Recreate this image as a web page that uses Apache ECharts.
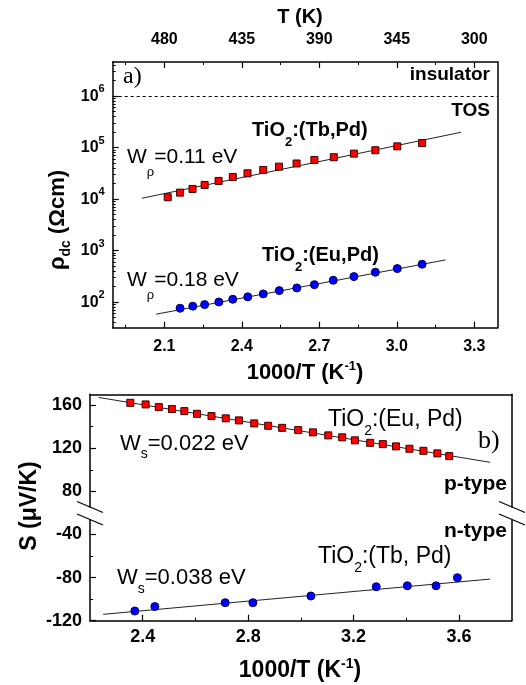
<!DOCTYPE html>
<html><head><meta charset="utf-8">
<script src="https://cdn.jsdelivr.net/npm/echarts@6/dist/echarts.min.js"></script>
<style>html,body{margin:0;padding:0;background:#fff}#c{width:526px;height:685px}</style>
</head><body><div id="c"></div>
<script>
// ---------- Panel a): rho_dc vs 1000/T ----------
const invT_TbPd = [2.113, 2.161, 2.209, 2.256, 2.310, 2.365, 2.422, 2.483, 2.544, 2.612, 2.681, 2.756, 2.834, 2.917, 3.002, 3.098];
const rho_TbPd  = [10900, 13400, 15800, 18900, 22600, 27000, 31800, 36900, 42800, 49300, 57700, 65200, 76600, 89100, 106000, 123000];
const invT_EuPd = [2.161, 2.210, 2.256, 2.311, 2.365, 2.423, 2.483, 2.545, 2.613, 2.681, 2.754, 2.834, 2.917, 3.002, 3.098];
const rho_EuPd  = [76.4, 83.6, 89.8, 101, 114, 127, 145, 168, 189, 219, 267, 314, 382, 449, 546];
const fitA_TbX = [2.0125, 3.249], fitA_TbY = [10420, 199100];
const fitA_EuX = [2.068, 3.189],  fitA_EuY = [58.5, 662];
const insulatorLine = 1e6;

// ---------- Panel b): S vs 1000/T ----------
const invT_S_EuPd = [2.353, 2.411, 2.461, 2.511, 2.558, 2.606, 2.661, 2.715, 2.765, 2.823, 2.876, 2.929, 2.990, 3.046, 3.104, 3.157, 3.205, 3.263, 3.311, 3.361, 3.412, 3.465, 3.518, 3.563];
const S_EuPd = [162.1, 160.6, 158.1, 156.3, 154.4, 151.9, 149.8, 147.7, 145.8, 143.0, 140.8, 138.9, 136.8, 134.7, 131.9, 130.1, 127.3, 125.0, 123.8, 121.7, 119.5, 117.6, 115.2, 112.7];
const fitB_EuX = [2.233, 3.718], fitB_EuY = [167.1, 106.9];
const invT_S_TbPd = [2.370, 2.446, 2.713, 2.818, 3.038, 3.286, 3.404, 3.513, 3.594];
const S_TbPd = [-111.0, -106.9, -103.3, -103.3, -97.1, -88.5, -87.6, -87.6, -80.1];
const fitB_TbX = [2.250, 3.718], fitB_TbY = [-114.1, -81.4];

// ---------- Ticks / labels ----------
const aXTicks = [2.1, 2.4, 2.7, 3.0, 3.3];
const aXMinor = [1.95, 2.25, 2.55, 2.85, 3.15];
const aTopLabels = ['480', '435', '390', '345', '300'];
const aYTicks = [1e2, 1e3, 1e4, 1e5, 1e6];
const aYMinor = [];
[10, 100, 1000, 10000, 100000, 1000000].forEach(d => { for (let m = 2; m <= 9; m++) { const v = m * d; if (v > 32 && v < 4.6e6) aYMinor.push(v); } });
const bXTicks = [2.4, 2.8, 3.2, 3.6];
const bXMinor = [2.6, 3.0, 3.4];
const bYUpTicks = [80, 120, 160], bYUpMinor = [100, 140];
const bYLoTicks = [-120, -80, -40], bYLoMinor = [-100, -60];

const F = 'Liberation Sans, Arial, Helvetica, sans-serif';
const FS = 'Liberation Serif, Times New Roman, serif';
const zip = (a, b) => a.map((v, i) => [v, b[i]]);
const lineS = {color: '#000', width: 1.5};
const tickS = {color: '#000', width: 1.2};

function axis(o) {
  return Object.assign({
    type: 'value', splitLine: {show: false},
    axisLine: {show: false, onZero: false}, axisTick: {show: false}, axisLabel: {show: false}
  }, o);
}
function frame(o) { return axis(Object.assign({axisLine: {show: true, onZero: false, lineStyle: lineS}}, o)); }
function major(o, ticks, labelOpt) {
  return axis(Object.assign({
    axisLine: {show: true, onZero: false, lineStyle: lineS},
    axisTick: {show: true, inside: true, length: 6, customValues: ticks, lineStyle: tickS},
    axisLabel: Object.assign({show: true, customValues: ticks, fontFamily: F, fontWeight: 'bold', color: '#000'}, labelOpt)
  }, o));
}
function minor(o, ticks) {
  return axis(Object.assign({axisTick: {show: true, inside: true, length: 3, customValues: ticks, lineStyle: {color: '#000', width: 1}}}, o));
}

const gA = {min: 1.9, max: 3.39};
const gB = {min: 2.2, max: 3.8};
const yA = {type: 'log', logBase: 10, min: 32, max: 4.6e6};

function txt(x, y, text, rich, extra) {
  return Object.assign({type: 'text', x: x, y: y, z: 100, silent: true,
    style: {text: text, rich: rich, align: 'left', verticalAlign: 'middle'}}, extra || {});
}
const R = (fs, lh, bold, va, fam) => ({fontFamily: fam || F, fontSize: fs, fontWeight: bold ? 'bold' : 'normal', fill: '#000', color: '#000', lineHeight: lh, verticalAlign: va});

const option = {
  animation: false,
  backgroundColor: '#fff',
  grid: [
    {left: 112.7, right: 28.5, top: 62, height: 265.7},
    {left: 90, right: 14.3, top: 394.3, height: 118.6},
    {left: 90, right: 14.3, top: 512.9, height: 107.8}
  ],
  xAxis: [
    major(Object.assign({gridIndex: 0, position: 'bottom'}, gA), aXTicks, {margin: 11, fontSize: 16, formatter: v => v.toFixed(1)}),
    minor(Object.assign({gridIndex: 0, position: 'bottom'}, gA), aXMinor),
    major(Object.assign({gridIndex: 0, position: 'top'}, gA), aXTicks, {margin: 14, fontSize: 16,
      formatter: v => { const i = aXTicks.findIndex(t => Math.abs(t - v) < 1e-6); return i >= 0 ? aTopLabels[i] : ''; }}),
    minor(Object.assign({gridIndex: 0, position: 'top'}, gA), aXMinor),
    frame(Object.assign({gridIndex: 1, position: 'top'}, gB)),
    major(Object.assign({gridIndex: 2, position: 'bottom'}, gB), bXTicks, {margin: 7, fontSize: 18, formatter: v => v.toFixed(1)}),
    minor(Object.assign({gridIndex: 2, position: 'bottom'}, gB), bXMinor)
  ],
  yAxis: [
    major(Object.assign({gridIndex: 0, position: 'left'}, yA), aYTicks, {margin: 8,
      formatter: v => '{b|10}{s|' + Math.round(Math.log10(v)) + '}',
      rich: {b: {fontFamily: F, fontWeight: 'bold', fontSize: 16, color: '#000', lineHeight: 25},
             s: {fontFamily: F, fontWeight: 'bold', fontSize: 11, color: '#000', lineHeight: 10, verticalAlign: 'top'}}}),
    minor(Object.assign({gridIndex: 0, position: 'left'}, yA), aYMinor),
    frame(Object.assign({gridIndex: 0, position: 'right'}, yA)),
    major({gridIndex: 1, position: 'left', min: 60, max: 170}, bYUpTicks, {margin: 8, fontSize: 18}),
    minor({gridIndex: 1, position: 'left', min: 60, max: 170}, bYUpMinor),
    frame({gridIndex: 1, position: 'right', min: 60, max: 170}),
    major({gridIndex: 2, position: 'left', min: -120, max: -20}, bYLoTicks, {margin: 8, fontSize: 18}),
    minor({gridIndex: 2, position: 'left', min: -120, max: -20}, bYLoMinor),
    frame({gridIndex: 2, position: 'right', min: -120, max: -20})
  ],
  series: [
    {type: 'line', xAxisIndex: 0, yAxisIndex: 0, data: zip(fitA_TbX, fitA_TbY), symbol: 'none', silent: true, z: 2, lineStyle: {color: '#222', width: 1}},
    {type: 'line', xAxisIndex: 0, yAxisIndex: 0, data: zip(fitA_EuX, fitA_EuY), symbol: 'none', silent: true, z: 2, lineStyle: {color: '#222', width: 1}},
    {type: 'scatter', xAxisIndex: 0, yAxisIndex: 0, data: zip(invT_TbPd, rho_TbPd), symbol: 'rect', symbolSize: 7, z: 3,
      itemStyle: {color: '#ff0000', borderColor: '#3a0000', borderWidth: 1, opacity: 1},
      markLine: {silent: true, symbol: 'none', label: {show: false}, lineStyle: {color: '#000', width: 1, type: [3, 3]}, data: [{yAxis: insulatorLine}]}},
    {type: 'scatter', xAxisIndex: 0, yAxisIndex: 0, data: zip(invT_EuPd, rho_EuPd), symbol: 'circle', symbolSize: 8, z: 3,
      itemStyle: {color: '#0000ff', borderColor: '#000050', borderWidth: 1, opacity: 1}},
    {type: 'line', xAxisIndex: 4, yAxisIndex: 3, data: zip(fitB_EuX, fitB_EuY), symbol: 'none', silent: true, z: 2, lineStyle: {color: '#222', width: 1}},
    {type: 'scatter', xAxisIndex: 4, yAxisIndex: 3, data: zip(invT_S_EuPd, S_EuPd), symbol: 'rect', symbolSize: 7, z: 3,
      itemStyle: {color: '#ff0000', borderColor: '#3a0000', borderWidth: 1, opacity: 1}},
    {type: 'line', xAxisIndex: 5, yAxisIndex: 6, data: zip(fitB_TbX, fitB_TbY), symbol: 'none', silent: true, z: 2, lineStyle: {color: '#222', width: 1}},
    {type: 'scatter', xAxisIndex: 5, yAxisIndex: 6, data: zip(invT_S_TbPd, S_TbPd), symbol: 'circle', symbolSize: 8, z: 3,
      itemStyle: {color: '#0000ff', borderColor: '#000050', borderWidth: 1, opacity: 1}}
  ],
  graphic: [
    // panel a) texts
    txt(123, 77, '{a|a)}', {a: R(24, 28, false, null, FS)}),
    txt(490, 75, '{a|insulator}', {a: R(19, 24, true)}, {style: {text: '{a|insulator}', rich: {a: R(19, 24, true)}, align: 'right', verticalAlign: 'middle'}}),
    txt(490, 111, '', null, {style: {text: '{a|TOS}', rich: {a: R(19, 24, true)}, align: 'right', verticalAlign: 'middle'}}),
    txt(252, 130, '{m|TiO}{s|2}{m|:(Tb,Pd)}', {m: R(20, 37, true), s: R(13, 12, true, 'bottom')}),
    txt(262, 255, '{m|TiO}{s|2}{m|:(Eu,Pd)}', {m: R(20, 37, true), s: R(13, 12, true, 'bottom')}),
    txt(127, 157, '{m|W}{s|ρ}{m|=0.11 eV}', {m: R(21, 43, false), s: R(13, 13, false, 'bottom')}),
    txt(127, 280, '{m|W}{s|ρ}{m|=0.18 eV}', {m: R(21, 43, false), s: R(13, 13, false, 'bottom')}),
    txt(300, 17, '', null, {style: {text: '{a|T (K)}', rich: {a: R(20, 24, true)}, align: 'center', verticalAlign: 'middle'}}),
    txt(305, 373, '', null, {style: {text: '{a|1000/T (K}{s|-1}{a|)}', rich: {a: R(22, 26, true), s: R(13, 14, true, 'top')}, align: 'center', verticalAlign: 'middle'}}),
    txt(58, 220, '', null, {rotation: Math.PI / 2, style: {text: '{a|ρ}{s|dc}{a| (Ωcm)}', rich: {a: R(22, 30, true), s: R(14, 14, true, 'bottom')}, align: 'center', verticalAlign: 'middle'}}),
    // panel b) texts
    txt(328, 420, '{m|TiO}{s|2}{m|:(Eu, Pd)}', {m: R(23, 36, false), s: R(14, 13, false, 'bottom')}),
    txt(478, 441, '{a|b)}', {a: R(26, 30, false, null, FS)}),
    txt(120, 443.5, '{m|W}{s|s}{m|=0.022 eV}', {m: R(22, 36, false), s: R(14, 13, false, 'bottom')}),
    txt(507, 484, '', null, {style: {text: '{a|p-type}', rich: {a: R(21, 26, true)}, align: 'right', verticalAlign: 'middle'}}),
    txt(507, 531, '', null, {style: {text: '{a|n-type}', rich: {a: R(21, 26, true)}, align: 'right', verticalAlign: 'middle'}}),
    txt(318, 557, '{m|TiO}{s|2}{m|:(Tb, Pd)}', {m: R(23, 36, false), s: R(14, 13, false, 'bottom')}),
    txt(117, 578, '{m|W}{s|s}{m|=0.038 eV}', {m: R(22, 36, false), s: R(14, 13, false, 'bottom')}),
    txt(30, 506, '', null, {rotation: Math.PI / 2, style: {text: '{a|S (μV/K)}', rich: {a: R(23, 28, true)}, align: 'center', verticalAlign: 'middle'}}),
    txt(300, 671, '', null, {style: {text: '{a|1000/T (K}{s|-1}{a|)}', rich: {a: R(23, 27, true), s: R(14, 14, true, 'top')}, align: 'center', verticalAlign: 'middle'}}),
    // axis breaks
    {type: 'rect', z: 100, silent: true, shape: {x: 87, y: 507.5, width: 6, height: 12}, style: {fill: '#fff'}},
    {type: 'rect', z: 100, silent: true, shape: {x: 509, y: 507.5, width: 6, height: 12}, style: {fill: '#fff'}},
    {type: 'line', z: 101, silent: true, shape: {x1: 77, y1: 501.5, x2: 103, y2: 512.5}, style: {stroke: '#000', lineWidth: 1.2}},
    {type: 'line', z: 101, silent: true, shape: {x1: 77, y1: 514, x2: 103, y2: 525}, style: {stroke: '#000', lineWidth: 1.2}},
    {type: 'line', z: 101, silent: true, shape: {x1: 499, y1: 501.5, x2: 525, y2: 512.5}, style: {stroke: '#000', lineWidth: 1.2}},
    {type: 'line', z: 101, silent: true, shape: {x1: 499, y1: 514, x2: 525, y2: 525}, style: {stroke: '#000', lineWidth: 1.2}}
  ]
};

const chart = echarts.init(document.getElementById('c'), null, {renderer: 'canvas', width: 526, height: 685});
chart.setOption(option);
</script>
</body></html>
